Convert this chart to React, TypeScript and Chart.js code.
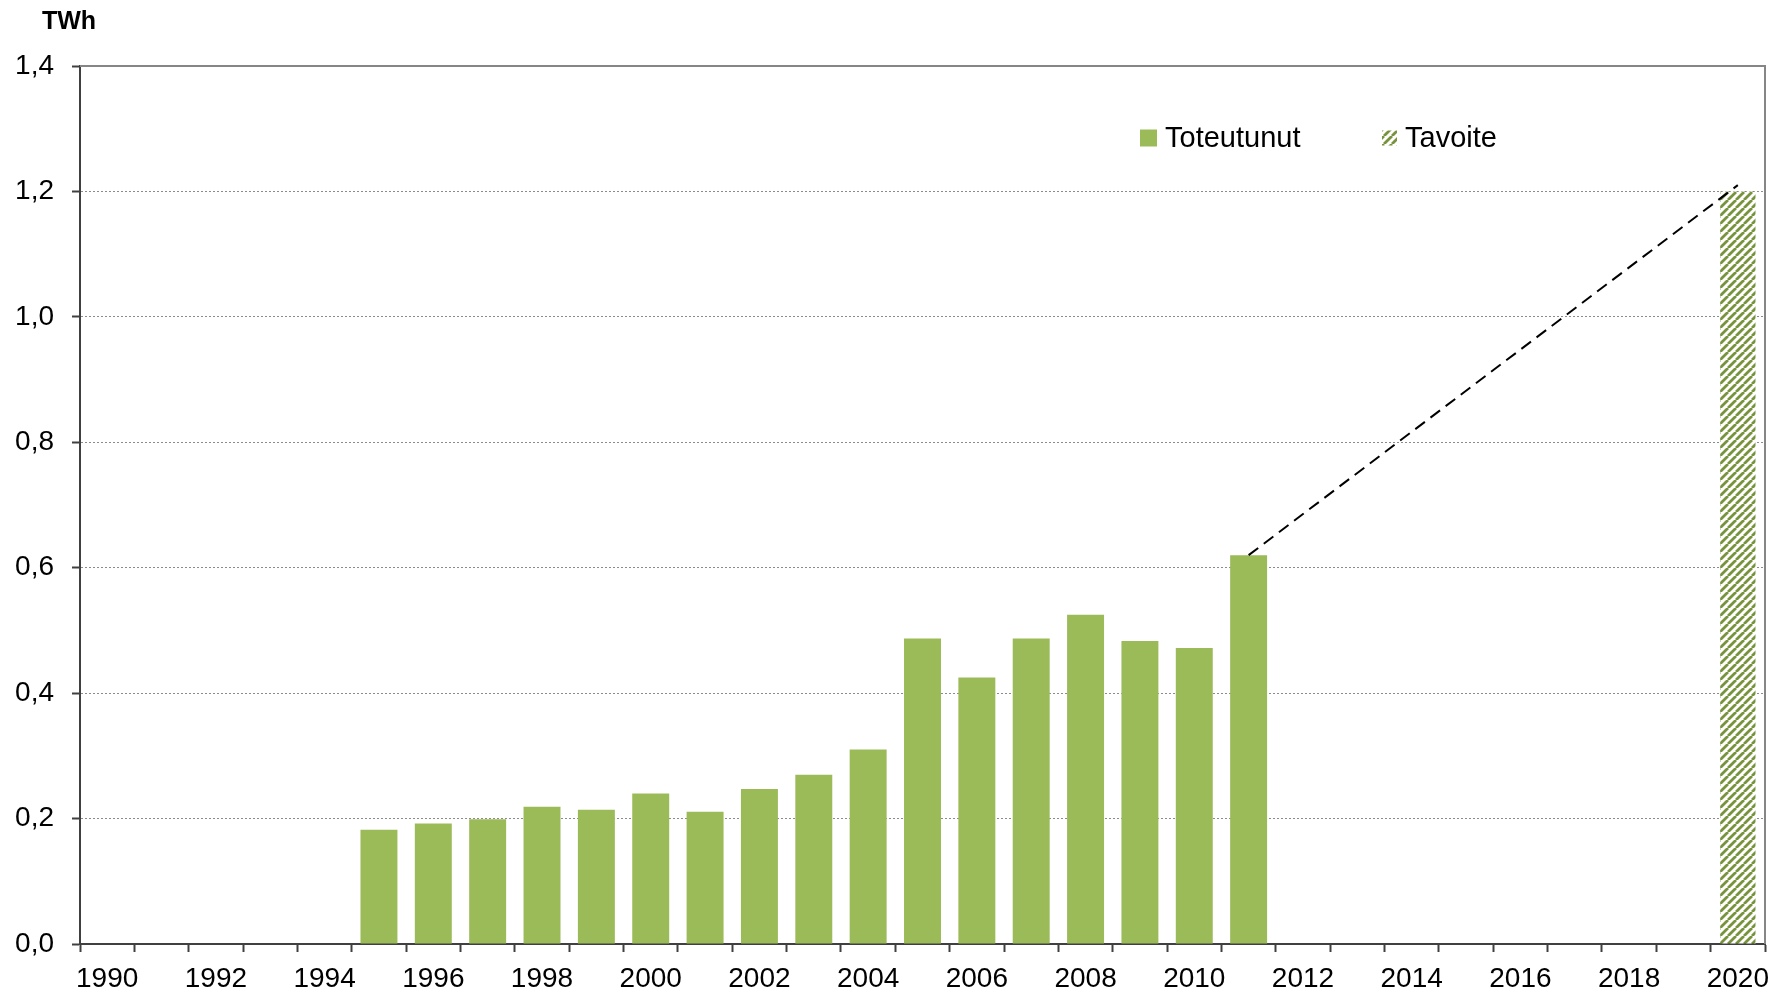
import React, { useEffect, useRef } from 'react';
import { Chart, registerables } from 'chart.js';

Chart.register(...registerables);

const years = [
  '1990', '1991', '1992', '1993', '1994', '1995', '1996', '1997', '1998', '1999',
  '2000', '2001', '2002', '2003', '2004', '2005', '2006', '2007', '2008', '2009',
  '2010', '2011', '2012', '2013', '2014', '2015', '2016', '2017', '2018', '2019', '2020',
];

const actual = [
  null, null, null, null, null, 0.182, 0.192, 0.199, 0.219, 0.214,
  0.240, 0.211, 0.247, 0.270, 0.310, 0.487, 0.425, 0.487, 0.525, 0.483,
  0.472, 0.620, null, null, null, null, null, null, null, null, null,
];

const target = [
  null, null, null, null, null, null, null, null, null, null,
  null, null, null, null, null, null, null, null, null, null,
  null, null, null, null, null, null, null, null, null, null, 1.2,
];

const trend = [
  null, null, null, null, null, null, null, null, null, null,
  null, null, null, null, null, null, null, null, null, null,
  null, 0.62, null, null, null, null, null, null, null, null, 1.21,
];

const yTicks = [0, 0.2, 0.4, 0.6, 0.8, 1.0, 1.2, 1.4];

const FONT = "'Liberation Sans', Arial, sans-serif";
const GREEN = '#9BBB59';
const OLIVE = '#77933C';

function makeHatch(): CanvasPattern | string {
  const s = 8;
  const c = document.createElement('canvas');
  c.width = s;
  c.height = s;
  const g = c.getContext('2d');
  if (!g) return OLIVE;
  g.fillStyle = '#ffffff';
  g.fillRect(0, 0, s, s);
  g.strokeStyle = OLIVE;
  g.lineWidth = 2.8;
  g.beginPath();
  g.moveTo(0, s);
  g.lineTo(s, 0);
  g.moveTo(-s, s);
  g.lineTo(0, 0);
  g.moveTo(s, s);
  g.lineTo(2 * s, 0);
  g.stroke();
  const p = g.createPattern(c, 'repeat');
  return p || OLIVE;
}

const framePlugin = {
  id: 'frame',
  afterDraw(chart: any) {
    const { ctx, chartArea: a } = chart;
    ctx.save();
    ctx.strokeStyle = '#868686';
    ctx.lineWidth = 2;
    ctx.beginPath();
    ctx.moveTo(a.left, a.top);
    ctx.lineTo(a.right, a.top);
    ctx.lineTo(a.right, a.bottom);
    ctx.stroke();
    // unit label
    ctx.fillStyle = '#000';
    ctx.font = `bold 25px ${FONT}`;
    ctx.textAlign = 'left';
    ctx.textBaseline = 'alphabetic';
    ctx.fillText('TWh', a.left - 38, a.top - 37);
    ctx.restore();
  },
};

const legendPlugin = {
  id: 'customLegend',
  afterDraw(chart: any) {
    const { ctx, chartArea: a } = chart;
    const items = chart.data.datasets.filter((d: any) => d.type !== 'line');
    const xs = [a.left + 1060, a.left + 1302];
    const sizes = [17, 15];
    const cy = a.top + 72;
    ctx.save();
    ctx.font = `29px ${FONT}`;
    ctx.textBaseline = 'middle';
    ctx.textAlign = 'left';
    items.forEach((d: any, i: number) => {
      const x = xs[i];
      const sz = sizes[i];
      ctx.fillStyle = d.backgroundColor;
      ctx.fillRect(x, cy - sz / 2, sz, sz);
      ctx.fillStyle = '#000';
      ctx.fillText(d.label, x + sz + 8, cy + 1);
    });
    ctx.restore();
  },
};

export default function App() {
  const ref = useRef<HTMLCanvasElement | null>(null);

  useEffect(() => {
    if (!ref.current) return;
    const hatch = makeHatch();
    const chart = new Chart(ref.current, {
      type: 'bar',
      data: {
        labels: years,
        datasets: [
          {
            type: 'line',
            label: 'trend',
            data: trend,
            borderColor: '#000',
            borderWidth: 2,
            borderDash: [12, 7],
            pointRadius: 0,
            spanGaps: true,
            fill: false,
            order: -1,
          } as any,
          {
            type: 'bar',
            label: 'Toteutunut',
            data: actual,
            backgroundColor: GREEN,
            barPercentage: 0.68,
            categoryPercentage: 1,
            grouped: false,
          } as any,
          {
            type: 'bar',
            label: 'Tavoite',
            data: target,
            backgroundColor: hatch,
            barPercentage: 0.65,
            categoryPercentage: 1,
            grouped: false,
          } as any,
        ],
      },
      options: {
        responsive: true,
        maintainAspectRatio: false,
        animation: false,
        layout: { padding: { top: 66, right: 26, left: 0, bottom: 0 } },
        plugins: {
          legend: { display: false },
          tooltip: { enabled: false },
          title: { display: false },
        },
        scales: {
          x: {
            offset: true,
            grid: {
              offset: true,
              drawOnChartArea: false,
              drawTicks: true,
              tickLength: 8,
              tickColor: '#404040',
              tickWidth: 2,
            },
            border: { display: true, color: '#404040', width: 2 },
            ticks: {
              autoSkip: false,
              maxRotation: 0,
              minRotation: 0,
              padding: 10,
              color: '#000',
              font: { family: FONT, size: 28 },
              callback: (_v: any, i: number) => (i % 2 === 0 ? years[i] : ''),
            },
            afterFit: (scale: any) => {
              scale.height = 51;
            },
          },
          y: {
            min: 0,
            max: 1.4,
            afterBuildTicks: (scale: any) => {
              scale.ticks = yTicks.map((v) => ({ value: v }));
            },
            grid: {
              color: '#8c8c8c',
              lineWidth: 1,
              drawTicks: true,
              tickLength: 8,
              tickColor: '#404040',
              tickWidth: 2,
              tickBorderDash: [],
            },
            border: { display: true, color: '#404040', width: 2, dash: [2, 2] },
            ticks: {
              padding: 18,
              color: '#000',
              font: { family: FONT, size: 28 },
              callback: (v: any) => Number(v).toFixed(1).replace('.', ','),
            },
            afterFit: (scale: any) => {
              scale.width = 80;
            },
          },
        },
      },
      plugins: [framePlugin, legendPlugin],
    });
    return () => chart.destroy();
  }, []);

  return (
    <div style={{ position: 'absolute', left: 0, top: 0, width: 1791, height: 995 }}>
      <canvas ref={ref} />
    </div>
  );
}
